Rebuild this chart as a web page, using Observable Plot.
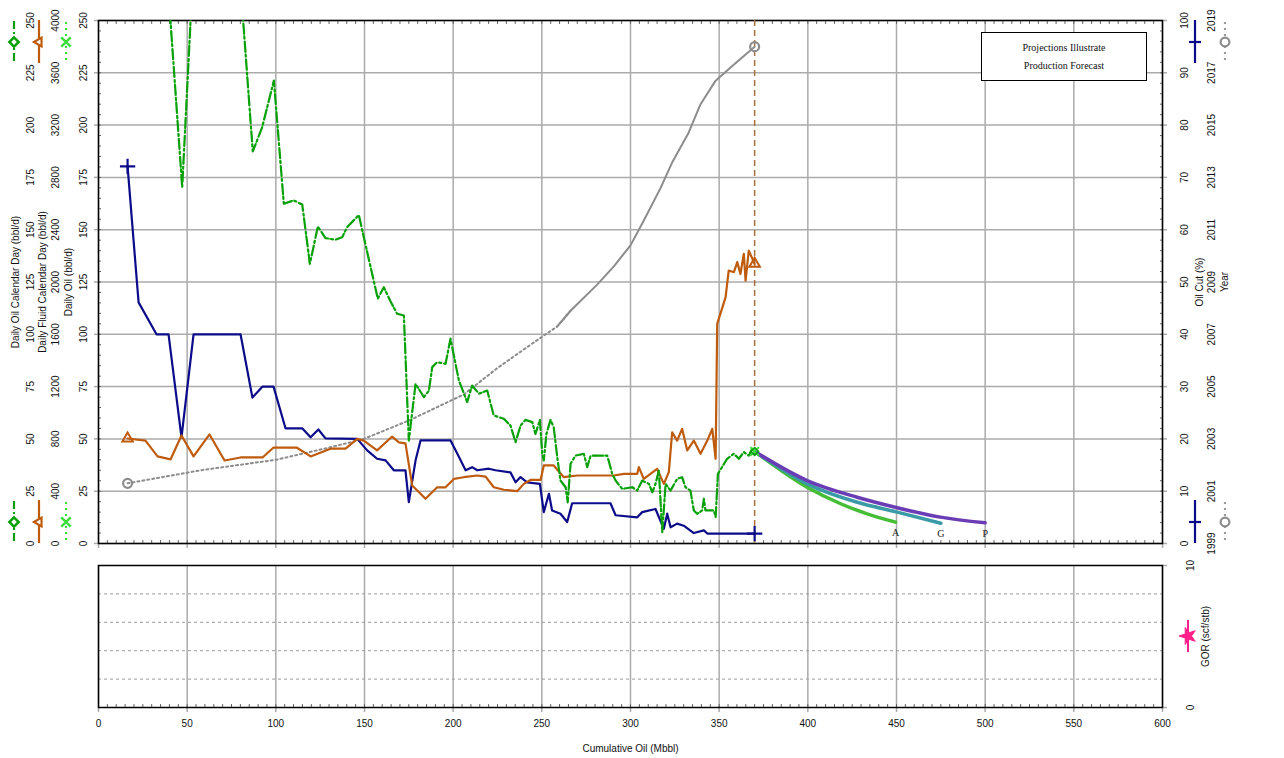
<!DOCTYPE html>
<html><head><meta charset="utf-8">
<script src="https://cdn.jsdelivr.net/npm/d3@7"></script>
<script src="https://cdn.jsdelivr.net/npm/@observablehq/plot@0.6"></script>
<style>
body{margin:0;background:#fff;font-family:"Liberation Sans",Arial,sans-serif;}
#wrap{position:relative;width:1284px;height:758px;overflow:hidden;background:#fff}
#top,#bot{position:absolute;left:0}
#top{top:0} #bot{top:560px}
#box{position:absolute;left:981px;top:32px;width:166px;height:49px;border:1.5px solid #000;background:#fff;font-family:"Liberation Serif","DejaVu Serif",serif;font-size:10px;text-align:center;line-height:17.5px;padding-top:6px;box-sizing:border-box;color:#111}
#ov{position:absolute;left:0;top:0;pointer-events:none;overflow:visible}
</style></head><body>
<div id="wrap"><div id="top"></div><div id="bot"></div>
<div id="box">Projections Illustrate<br>Production Forecast</div>
<svg id="ov" width="1284" height="758"></svg></div>
<script>
// ---------------- data ----------------
// Daily Oil Calendar Day (bbl/d) vs Cumulative Oil (Mbbl)
const cumOilGreen = [36,47.2,53,80,87,92.3,98.9,104.5,110.1,114.9,119.2,123.7,128,133.6,137.4,140.2,146.8,157.5,160.9,164.5,168.4,172.2,175,178.8,183.5,186.3,188.2,191,195.7,198.5,203.2,207.9,210.7,214.5,219.2,222.9,228.6,232.3,235.2,238,240.8,244.6,246.4,248.9,250.2,251.1,252.6,254.9,256.7,258.7,260.5,263.4,264.6,266.2,269,273.7,275.6,277.5,286.9,289.7,291.6,295.3,301,303.8,306.6,310.4,312.3,314.1,316,317.9,319.8,322.6,326.3,329.1,331,333.8,335.7,337.6,340.4,341.4,342.3,347,348,349.3,354.5,358.3,361.1,363.9,366.7,368.6,370];
const oilCalDay = [305,170.3,268,268,187.4,199,221.3,162.4,164,162,133.7,151.5,146,145.2,146.4,151.2,157,117,122.5,116,109.8,109,49.2,76.3,70,73,84.3,86.7,85.9,97.9,78,67.6,75.5,71.6,73.1,61.2,59.6,56.4,48.4,56.4,59.1,58,52.4,59.1,42.9,39.7,52.4,59.1,55.6,41.3,30.1,26.9,19.7,38.1,42,42.9,36.5,42,42,33.3,30.1,26.1,26.9,25.3,30.1,28.5,24.5,28.5,34.9,5.4,28.5,25.3,30.9,31.7,26.9,25.3,15.8,14.2,15.8,21.4,15.8,15.8,12.6,33.3,40.5,42.9,40.5,43.7,42,45.3,44];
// Daily Fluid Calendar Day (bbl/d)
const cumOilFluid = [16.4,26.5,33.3,40.6,46.8,53.6,62.6,71.1,80.1,92.5,98.7,111.7,119.6,130.8,139.3,145.9,149.6,157.1,165.6,169.4,173.1,176.9,184.4,191,195.7,200.4,206,213.6,218.3,222.9,228.6,236.1,239.8,243.6,249.3,251.1,256.7,262.4,270,290.6,296.3,303.8,304.7,307.5,315,318.8,321.6,323.5,326.3,329.1,332,335.7,339.5,343.3,346.1,348,348.9,353.6,355.4,358.3,360.2,362,363.9,364.9,366.7,370];
const fluidCalDay = [803,787,666,643,826,666,834,635,658,658,734,734,666,725,726,800,787,712,818,774,766,443,342,430,430,494,507,520,512,430,411,400,456,486,486,597,597,507,520,520,533,533,584,494,571,456,546,851,787,877,712,787,686,787,877,648,1680,1883,2088,2075,2152,2062,2216,2011,2240,2139];
// Oil Cut (%)
const cumOilCut = [16.4,22.6,32.7,39.5,46.8,53.6,80.1,86.8,92.5,98.7,105.5,115,119.6,124,128,145.9,151.5,157.1,161.9,166.5,173.1,175,178.8,181.6,198.5,202.3,207,210.7,213.6,220.1,223.9,232.3,235.2,238,241.7,248.9,251.1,254,255.8,260.5,264.3,267.1,288.7,291.6,303.8,306.6,314.1,318.8,320.7,322.6,326.3,330,335.7,341.4,343.3,370];
const oilCutPct = [72.1,46.1,40,40,20.3,40,40,27.9,30,30,22,22,20.3,21.8,20.1,20,17.8,16.2,15.9,14,14,7.9,15.9,19.7,19.7,17.2,14,14.6,14,14.3,14,13.6,11.7,12.7,11.7,11.4,6,9.5,6.3,5.7,4.1,7.7,7.7,5.4,5,6,6.6,2.8,5.7,3.1,3.8,3.4,2,2.5,1.9,1.9];
// Year
const cumOilYear = [16.4,57.5,100,130.8,149.6,175,206,224.8,243.6,258.7,266.2,281.2,290.6,300,307.5,317,323.7,332.7,339.5,348,356.4,370];
const yearVals = [2001.3,2001.8,2002.2,2002.68,2003,2003.7,2004.7,2005.7,2006.6,2007.3,2007.9,2008.9,2009.6,2010.4,2011.35,2012.6,2013.6,2014.7,2015.8,2016.7,2017.2,2018.0];
// Forecasts
const fcA_cum = [370,399.6,418.5,433.5,449.5];
const fcA_rate = [44,26.9,19,14.2,10.2];
const fcG_cum = [370,399.6,427.8,450.4,475];
const fcG_rate = [44,28.5,19.7,15,9.7];
const fcP_cum = [370,399.6,427.8,450.4,474.8,500];
const fcP_rate = [44,30.1,22.1,17.1,12.6,9.9];
const fcLabels = ["A","G","P"];
const forecastStart = 370;
// Ticks
const xTicks = [0,50,100,150,200,250,300,350,400,450,500,550,600];
const xMinor = d3.range(0,601,5);
const yTicks = [0,25,50,75,100,125,150,175,200,225,250];
const yMinor = d3.range(0,251,5);
const fluidTicks = ["0","400","800","1200","1600","2000","2400","2800","3200","3600","4000"];
const cutTicks = ["0","10","20","30","40","50","60","70","80","90","100"];
const yearTicks = ["1999","2001","2003","2005","2007","2009","2011","2013","2015","2017","2019"];
const gorTicks = [0,10];
const gorGrid = [2,4,6,8];

// ---------------- build tables ----------------
const green = cumOilGreen.map((c,i)=>({cum:c, v:oilCalDay[i]}));
const fluid = cumOilFluid.map((c,i)=>({cum:c, v:fluidCalDay[i]}));
const cut = cumOilCut.map((c,i)=>({cum:c, v:oilCutPct[i]}));
const year = cumOilYear.map((c,i)=>({cum:c, v:yearVals[i]}));
const fc = [[fcA_cum,fcA_rate,"A"],[fcG_cum,fcG_rate,"G"],[fcP_cum,fcP_rate,"P"]]
  .flatMap(([xs,ys,k])=>xs.map((c,i)=>({cum:c, v:ys[i], k})));
const fcEnds = fcLabels.map(k=>{const a=fc.filter(d=>d.k===k);return a[a.length-1];});

const yMax = yTicks[yTicks.length-1];
const fluidK = +fluidTicks[fluidTicks.length-1]/yMax;
const cutK = yMax/(+cutTicks[cutTicks.length-1]);
const yearK = yMax/(+yearTicks[yearTicks.length-1] - +yearTicks[0]);
const fY = d=>d.v/fluidK, cY = d=>d.v*cutK, yY = d=>(d.v - +yearTicks[0])*yearK;

const C = {dg:"#0aa00a", lg:"#3ddc3d", or:"#bf5b0c", nv:"#0c0c8a", gr:"#8c8c8c", br:"#a8703c",
  A:"#45bd35", G:"#3a9aa5", P:"#6a3db5", mg:"#ff1f8a", grid:"#ababab"};
const font = "'Liberation Sans', Arial, sans-serif";
const ends = a=>[a[0], a[a.length-1]];
const lab = (arr)=> d => arr[yTicks.indexOf(d)];

const topPlot = Plot.plot({
  width:1284, height:560, marginLeft:98, marginRight:122, marginTop:20, marginBottom:17,
  x:{domain:[0,600]}, y:{domain:[0,250]},
  style:{fontFamily:font, fontSize:"10px", background:"white", overflow:"visible", color:"#111"},
  marks:[
    Plot.gridX(xTicks, {stroke:C.grid, strokeOpacity:1, strokeWidth:1.5}),
    Plot.gridY(yTicks, {stroke:C.grid, strokeOpacity:1, strokeWidth:1.5}),
    Plot.axisX(xMinor, {anchor:"bottom", tickSize:-3, fill:"none", label:null, stroke:"#666"}),
    Plot.axisX(xMinor, {anchor:"top", tickSize:-3, fill:"none", label:null, stroke:"#666"}),
    Plot.axisY(yMinor, {anchor:"left", tickSize:-3, fill:"none", label:null, stroke:"#666"}),
    Plot.axisY(yMinor, {anchor:"right", tickSize:-3, fill:"none", label:null, stroke:"#666"}),
    Plot.axisX(xTicks, {anchor:"bottom", tickSize:5, fill:"none", label:null, stroke:C.grid, strokeWidth:1.5}),
    Plot.axisY(yTicks, {anchor:"left", tickSize:4, fill:"none", label:null, stroke:C.grid, strokeWidth:1.5}),
    Plot.axisY(yTicks, {anchor:"right", tickSize:4, fill:"none", label:null, stroke:C.grid, strokeWidth:1.5}),
    Plot.frame({stroke:"#000", strokeWidth:1.5}),
    Plot.ruleX([forecastStart], {stroke:C.br, strokeWidth:1.5, strokeDasharray:"6,4"}),
    // gray year line: dotted then solid
    Plot.line(year.filter(d=>d.cum<=266.2), {x:"cum", y:yY, stroke:C.gr, strokeWidth:2, strokeDasharray:"2,3"}),
    Plot.line(year.filter(d=>d.cum>=258.7), {x:"cum", y:yY, stroke:C.gr, strokeWidth:2}),
    Plot.line(cut, {x:"cum", y:cY, stroke:C.nv, strokeWidth:2.2}),
    Plot.line(fluid, {x:"cum", y:fY, stroke:C.or, strokeWidth:2.2}),
    Plot.line(green, {x:"cum", y:"v", stroke:C.lg, strokeWidth:1.6, strokeDasharray:"1.5,7", clip:true}),
    Plot.line(green, {x:"cum", y:"v", stroke:C.dg, strokeWidth:2.2, strokeDasharray:"10,3,2,3", clip:true}),
    Plot.line(fc, {x:"cum", y:"v", z:"k", stroke:d=>C[d.k], strokeWidth:3.5, curve:"monotone-x"}),
    Plot.text(fcEnds, {x:"cum", y:"v", text:"k", dy:11, fontFamily:"'Liberation Serif', serif", fontSize:10, fill:"#222"}),
    Plot.dot(ends(year), {x:"cum", y:yY, r:4.5, stroke:C.gr, strokeWidth:2.2, fill:"none"}),
    Plot.dot(ends(fluid), {x:"cum", y:fY, r:5, symbol:"triangle2", stroke:C.or, strokeWidth:2, fill:"none"}),
    Plot.dot(ends(cut), {x:"cum", y:cY, r:5, symbol:"plus", stroke:C.nv, strokeWidth:2.2}),
    Plot.dot([green[green.length-1]], {x:"cum", y:"v", r:4, symbol:"times", stroke:C.lg, strokeWidth:2}),
    Plot.dot([green[green.length-1]], {x:"cum", y:"v", r:3.5, symbol:"diamond2", stroke:C.dg, strokeWidth:1.5, fill:"none"}),
    // left axes
    Plot.axisY(yTicks, {anchor:"left", tickSize:0, tickPadding:12, tickRotate:-90, label:null, tickFormat:d=>String(d)}),
    Plot.axisY(yTicks, {anchor:"left", tickSize:0, tickPadding:40, tickRotate:-90, label:null, tickFormat:lab(fluidTicks)}),
    Plot.axisY(yTicks, {anchor:"left", tickSize:0, tickPadding:65, tickRotate:-90, label:null, tickFormat:d=>String(d)}),
    Plot.text(["Daily Oil Calendar Day (bbl/d)"], {frameAnchor:"left", dx:-83, rotate:-90, textAnchor:"middle", lineAnchor:"middle", fontSize:10}),
    Plot.text(["Daily Fluid Calendar Day (bbl/d)"], {frameAnchor:"left", dx:-56, rotate:-90, textAnchor:"middle", lineAnchor:"middle", fontSize:10}),
    Plot.text(["Daily Oil (bbl/d)"], {frameAnchor:"left", dx:-30, rotate:-90, textAnchor:"middle", lineAnchor:"middle", fontSize:10}),
    // right axes
    Plot.axisY(yTicks, {anchor:"right", tickSize:0, tickPadding:18, tickRotate:-90, lineAnchor:"top", label:null, tickFormat:lab(cutTicks)}),
    Plot.axisY(yTicks, {anchor:"right", tickSize:0, tickPadding:45, tickRotate:-90, lineAnchor:"top", label:null, tickFormat:lab(yearTicks)}),
    Plot.text(["Oil Cut (%)"], {frameAnchor:"right", dx:37, rotate:-90, textAnchor:"middle", lineAnchor:"middle", fontSize:10}),
    Plot.text(["Year"], {frameAnchor:"right", dx:62, rotate:-90, textAnchor:"middle", lineAnchor:"middle", fontSize:10})
  ]
});
document.getElementById("top").appendChild(topPlot);

const botPlot = Plot.plot({
  width:1284, height:198, marginLeft:98, marginRight:122, marginTop:5, marginBottom:51,
  x:{domain:[0,600]}, y:{domain:[0,10]},
  style:{fontFamily:font, fontSize:"10px", background:"transparent", overflow:"visible", color:"#111"},
  marks:[
    Plot.gridX(xTicks, {stroke:C.grid, strokeOpacity:1, strokeWidth:1.5}),
    Plot.gridY(gorGrid, {stroke:"#9a9a9a", strokeOpacity:1, strokeWidth:1, strokeDasharray:"3,3"}),
    Plot.axisX(xMinor, {anchor:"bottom", tickSize:-3, fill:"none", label:null, stroke:"#666"}),
    Plot.axisX(xTicks, {anchor:"bottom", tickSize:5, tickPadding:7, label:null, stroke:C.grid, strokeWidth:1.5, tickFormat:d=>String(d)}),
    Plot.axisY(gorTicks, {anchor:"right", tickSize:4, fill:"none", label:null, stroke:C.grid, strokeWidth:1.5}),
    Plot.axisY(gorTicks, {anchor:"right", tickSize:0, tickPadding:24, tickRotate:-90, lineAnchor:"top", label:null, tickFormat:d=>String(d)}),
    Plot.frame({stroke:"#000", strokeWidth:1.5}),
    Plot.text(["GOR (scf/stb)"], {frameAnchor:"right", dx:43, rotate:-90, textAnchor:"middle", lineAnchor:"middle", fontSize:10}),
    Plot.text(["Cumulative Oil (Mbbl)"], {frameAnchor:"bottom", dy:41, textAnchor:"middle", lineAnchor:"middle", fontSize:10})
  ]
});
document.getElementById("bot").appendChild(botPlot);

// ---------------- legend glyphs on the axes ----------------
const ov = d3.select("#ov");
function vline(x,y1,y2,color,dash,w){ov.append("line").attr("x1",x).attr("x2",x).attr("y1",y1).attr("y2",y2)
  .attr("stroke",color).attr("stroke-width",w||2).attr("stroke-dasharray",dash||null);}
function sym(type,x,y,size,color,rot,fill,sw){ov.append("path").attr("d",d3.symbol(type,size)())
  .attr("transform",`translate(${x},${y}) rotate(${rot||0})`).attr("fill",fill||"white").attr("stroke",color).attr("stroke-width",sw||2);}
[42,522].forEach(cy=>{
  vline(14,cy-21,cy+21,C.dg,"8,3,2,3",2.2); sym(d3.symbolDiamond2,14,cy,55,C.dg,0,"white",2.5);
  vline(39,cy-22,cy+21,C.or,null,2.2); sym(d3.symbolTriangle2,39,cy,55,C.or,-90,"white",2.2);
  vline(66,cy-20,cy+21,C.lg,"2,4",2.2); sym(d3.symbolTimes,66,cy,60,C.lg,0,"none",2.5);
  vline(1195,cy-22,cy+21,C.nv,null,2.2); ov.append("line").attr("x1",1189).attr("x2",1201).attr("y1",cy).attr("y2",cy).attr("stroke",C.nv).attr("stroke-width",2.2);
  vline(1225,cy-20,cy+21,"#9a9a9a","2,4",2.2); sym(d3.symbolCircle,1225,cy,60,"#8c8c8c",0,"white",2.2);
});
vline(1188,620,652,C.mg,null,2); sym(d3.symbolStar,1188,636,90,C.mg,-90,C.mg,1);
</script>
</body></html>
